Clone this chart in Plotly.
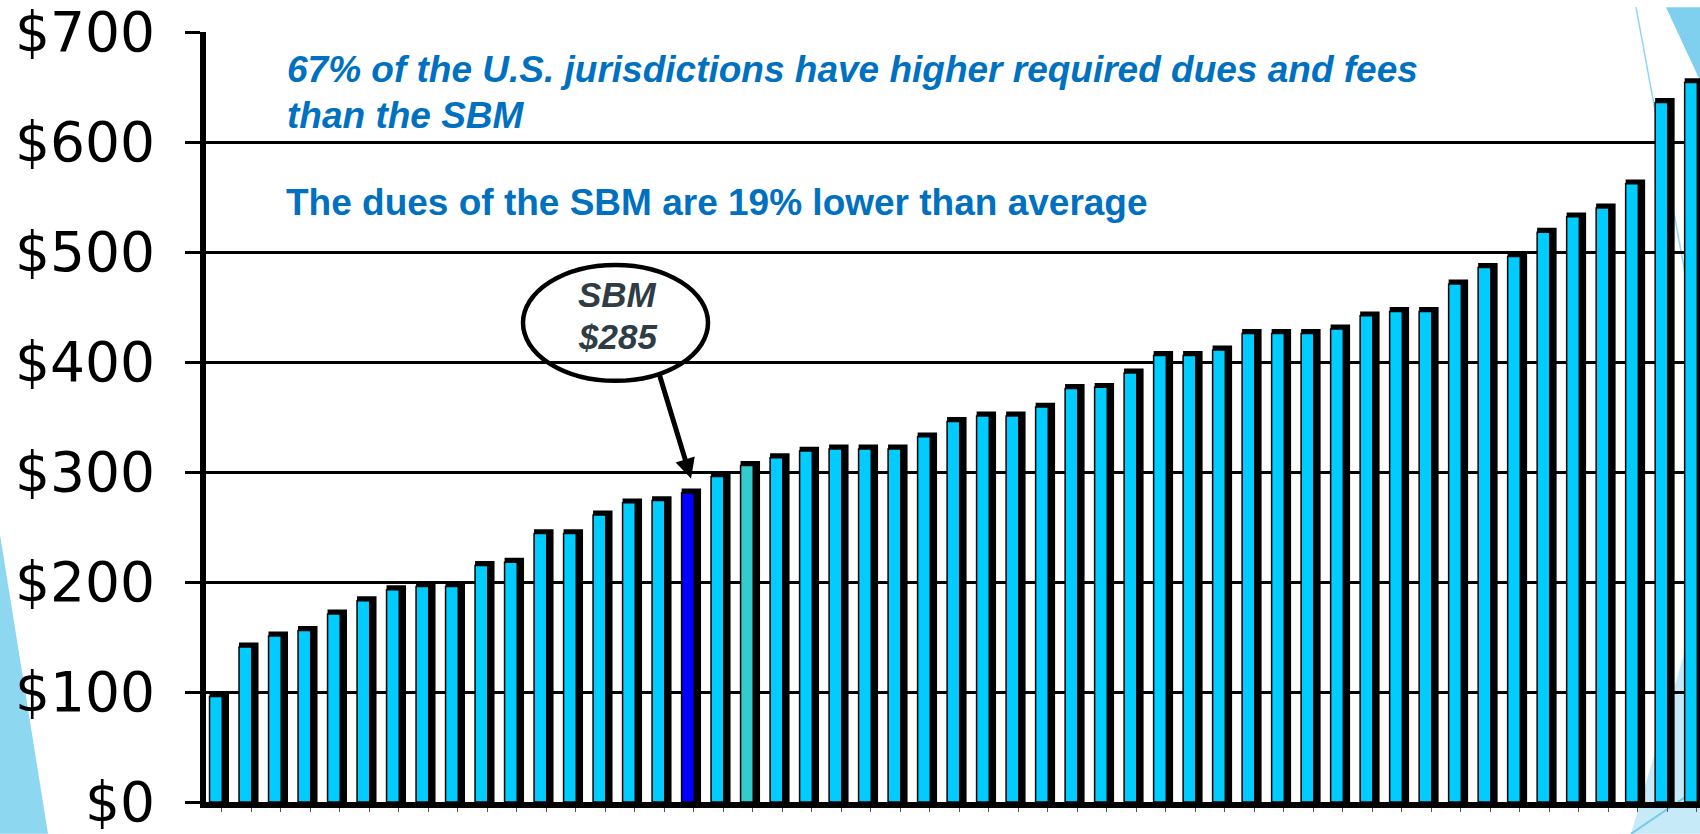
import plotly.graph_objects as go

# ---- data ----
rank = list(range(1, 52))
dues = [100, 145, 155, 160, 175, 187, 197, 200, 200, 219,
        222, 248, 248, 265, 276, 278, 285, 300, 310, 317,
        323, 325, 325, 325, 336, 350, 355, 355, 363, 380,
        381, 394, 410, 410, 415, 430, 430, 430, 434, 446,
        450, 450, 475, 490, 500, 522, 536, 544, 566, 640,
        658]
sbm_rank = 17
teal_rank = 19
y_ticks = [0, 100, 200, 300, 400, 500, 600, 700]
y_tick_labels = ["$0", "$100", "$200", "$300", "$400", "$500", "$600", "$700"]
note1_line1 = "67% of the U.S. jurisdictions have higher required dues and fees"
note1_line2 = "than the SBM"
note2 = "The dues of the SBM are 19% lower than average"
callout_l1 = "SBM"
callout_l2 = "$285"

# ---- layout geometry ----
W, H = 1700, 834
L, R, T, B = 206, 1700, 25, 802


def fx(px):
    return (px - L) / (R - L)


def fy(py):
    return (B - py) / (B - T)


CYAN = "#00CCFF"
BLUE = "#0000FF"
TEAL = "#33CCCC"
TXT_BLUE = "#0070C0"

front_colors = []
for r in rank:
    if r == sbm_rank:
        front_colors.append(BLUE)
    elif r == teal_rank:
        front_colors.append(TEAL)
    else:
        front_colors.append(CYAN)

front_vals = [v - 4 for v in dues]

fig = go.Figure()
# dark depth / top of the 3D bars
fig.add_trace(go.Bar(
    x=rank, y=dues, width=0.66, offset=-0.32,
    marker=dict(color="#000000", line=dict(width=0)),
    hoverinfo="skip", showlegend=False))
# front face
fig.add_trace(go.Bar(
    x=rank, y=front_vals, width=0.43, offset=-0.32,
    marker=dict(color=front_colors, line=dict(color="#000000", width=1.5)),
    customdata=dues, hovertemplate="$%{customdata}<extra></extra>",
    showlegend=False))

sbm_val = dues[rank.index(sbm_rank)]

shapes = [
    # left decorative triangle
    dict(type="path", xref="paper", yref="paper", layer="below",
         path=f"M {fx(0)},{fy(532)} L {fx(48)},{fy(834)} L {fx(0)},{fy(834)} Z",
         fillcolor="#8DD7F1", line=dict(width=0)),
    # top-right triangle
    dict(type="path", xref="paper", yref="paper", layer="below",
         path=f"M {fx(1666)},{fy(0)} L {fx(1700)},{fy(0)} L {fx(1700)},{fy(74)} Z",
         fillcolor="#7ED0EE", line=dict(width=0)),
    # thin diagonal line top-right
    dict(type="line", xref="paper", yref="paper", layer="below",
         x0=fx(1636), y0=fy(0), x1=fx(1700), y1=fy(350),
         line=dict(color="#8FD6F0", width=1.5)),
    # bottom-right light triangle
    dict(type="path", xref="paper", yref="paper", layer="below",
         path=f"M {fx(1631)},{fy(834)} L {fx(1700)},{fy(598)} L {fx(1700)},{fy(834)} Z",
         fillcolor="#C6EAF8", line=dict(width=0)),
    dict(type="line", xref="paper", yref="paper", layer="below",
         x0=fx(1631), y0=fy(834), x1=fx(1700), y1=fy(787),
         line=dict(color="#74C8EA", width=2)),
    # callout ellipse
    dict(type="circle", xref="paper", yref="paper", layer="above",
         x0=fx(523), x1=fx(708), y0=fy(377), y1=fy(260),
         line=dict(color="#000000", width=4.5), fillcolor="rgba(0,0,0,0)"),
]

annotations = [
    dict(xref="paper", yref="paper", x=fx(285), y=fy(63), xanchor="left", yanchor="middle",
         text=f"<b><i>{note1_line1}</i></b>", showarrow=False,
         font=dict(family="Liberation Sans, Arial", size=37, color=TXT_BLUE)),
    dict(xref="paper", yref="paper", x=fx(285), y=fy(109), xanchor="left", yanchor="middle",
         text=f"<b><i>{note1_line2}</i></b>", showarrow=False,
         font=dict(family="Liberation Sans, Arial", size=37, color=TXT_BLUE)),
    dict(xref="paper", yref="paper", x=fx(284), y=fy(197), xanchor="left", yanchor="middle",
         text=f"<b>{note2}</b>", showarrow=False,
         font=dict(family="Liberation Sans, Arial", size=37, color=TXT_BLUE)),
    dict(xref="paper", yref="paper", x=fx(617), y=fy(290), xanchor="center", yanchor="middle",
         text=f"<b><i>{callout_l1}</i></b>", showarrow=False,
         font=dict(family="Liberation Sans, Arial", size=35, color="#2F3C45")),
    dict(xref="paper", yref="paper", x=fx(617), y=fy(332), xanchor="center", yanchor="middle",
         text=f"<b><i>{callout_l2}</i></b>", showarrow=False,
         font=dict(family="Liberation Sans, Arial", size=35, color="#2F3C45")),
    # arrow from callout to SBM bar
    dict(x=sbm_rank, y=sbm_val + 9, xref="x", yref="y", ax=-32, ay=-105,
         text="", showarrow=True, arrowhead=2, arrowsize=0.8, arrowwidth=5,
         arrowcolor="#000000"),
]

fig.update_layout(
    width=W, height=H,
    margin=dict(l=L, r=W - R, t=T, b=H - B, pad=0),
    paper_bgcolor="#FFFFFF",
    plot_bgcolor="rgba(0,0,0,0)",
    barmode="overlay",
    shapes=shapes,
    annotations=annotations,
    xaxis=dict(
        range=[0.56, 51.2], showgrid=False, zeroline=False,
        showline=True, linecolor="#000000", linewidth=6,
        tickmode="array", tickvals=[r + 0.09 for r in rank],
        ticks="outside", ticklen=4, tickwidth=1, tickcolor="#555555",
        showticklabels=False, fixedrange=True),
    yaxis=dict(
        range=[0, 700], showgrid=True, gridcolor="#000000", gridwidth=2.5,
        zeroline=False, showline=True, linecolor="#000000", linewidth=6,
        tickmode="array", tickvals=y_ticks, ticktext=y_tick_labels,
        ticks="outside", ticklen=15, tickwidth=3, tickcolor="#000000",
        ticklabelstandoff=19, ticklabeloverflow="allow",
        tickfont=dict(family="DejaVu Sans", size=55, color="#000000"),
        fixedrange=True),
    showlegend=False,
)

fig.write_html("out.html", config={"displayModeBar": False},
               post_script="document.body.style.margin='0px';")
